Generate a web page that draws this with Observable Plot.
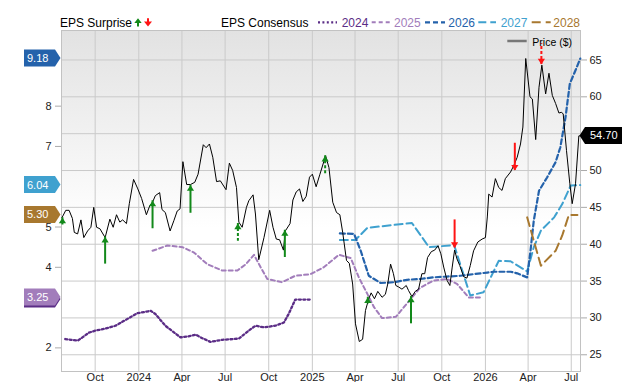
<!DOCTYPE html>
<html><head><meta charset="utf-8">
<script src="https://cdn.jsdelivr.net/npm/d3@7"></script>
<script src="https://cdn.jsdelivr.net/npm/@observablehq/plot@0.6"></script>
<style>
body{margin:0;background:#fff;font-family:"Liberation Sans",Arial,sans-serif;}
#wrap{position:relative;width:640px;height:382px;}
</style></head><body><div id="wrap"></div>
<script>
// ---------- DATA ----------
const xTickDates = ["2023-10-01","2024-01-01","2024-04-01","2024-07-01","2024-10-01","2025-01-01","2025-04-01","2025-07-01","2025-10-01","2026-01-01","2026-04-01","2026-07-01"];
const priceTicks = [25,30,35,40,45,50,55,60,65];
const epsTicks = [2,3,4,5,6,7,8,9];

const price = [
["2023-07-23",43.6],["2023-07-31",44.6],["2023-08-07",44.6],["2023-08-14",43.5],["2023-08-18",41.6],["2023-08-25",41.4],
["2023-09-01",43.3],["2023-09-07",40.9],["2023-09-15",41.8],["2023-09-22",42.3],["2023-09-28",45.0],["2023-10-04",42.3],
["2023-10-11",42.1],["2023-10-22",40.9],["2023-11-01",43.4],["2023-11-08",42.3],["2023-11-15",44.0],["2023-11-22",43.0],
["2023-11-28",43.3],["2023-12-06",42.8],["2023-12-12",45.5],["2023-12-21",48.8],["2023-12-30",47.5],["2024-01-07",46.2],
["2024-01-17",44.0],["2024-01-24",45.2],["2024-01-30",45.7],["2024-02-05",46.6],["2024-02-14",47.0],["2024-02-19",44.7],
["2024-02-26",44.3],["2024-03-07",41.8],["2024-03-15",43.2],["2024-03-22",44.5],["2024-03-28",44.8],["2024-04-03",51.2],
["2024-04-11",48.1],["2024-04-19",48.1],["2024-04-28",48.4],["2024-05-05",49.5],["2024-05-16",53.5],["2024-05-22",53.1],
["2024-05-29",53.6],["2024-06-05",51.8],["2024-06-13",48.5],["2024-06-21",48.6],["2024-07-03",47.4],["2024-07-10",51.0],
["2024-07-17",50.0],["2024-07-25",47.7],["2024-07-30",43.0],["2024-08-06",42.3],["2024-08-15",45.0],["2024-08-20",45.9],
["2024-08-29",46.7],["2024-09-03",44.1],["2024-09-10",37.9],["2024-09-21",40.9],["2024-10-03",44.6],["2024-10-10",42.3],
["2024-10-17",40.7],["2024-10-24",40.6],["2024-11-01",39.2],["2024-11-05",41.8],["2024-11-15",42.8],["2024-11-21",46.0],
["2024-11-28",47.1],["2024-12-05",47.5],["2024-12-12",45.8],["2024-12-19",46.5],["2024-12-26",49.1],["2025-01-01",49.5],
["2025-01-09",47.8],["2025-01-17",49.5],["2025-01-29",52.0],["2025-02-05",50.4],["2025-02-13",45.7],["2025-02-21",44.3],
["2025-02-28",44.0],["2025-03-06",41.6],["2025-03-14",37.8],["2025-03-20",37.4],["2025-03-27",34.6],["2025-04-02",29.2],
["2025-04-10",26.8],["2025-04-17",27.1],["2025-04-23",31.0],["2025-04-30",32.6],["2025-05-05",33.4],["2025-05-12",32.6],
["2025-05-19",33.6],["2025-05-28",32.8],["2025-06-04",33.2],["2025-06-09",34.6],["2025-06-15",37.3],["2025-06-21",36.0],
["2025-06-26",34.4],["2025-07-02",34.2],["2025-07-09",33.9],["2025-07-18",34.4],["2025-07-23",33.7],["2025-07-30",32.9],
["2025-08-06",33.6],["2025-08-13",33.9],["2025-08-20",36.0],["2025-08-26",36.0],["2025-09-01",38.2],["2025-09-09",39.0],
["2025-09-16",39.2],["2025-09-23",39.8],["2025-09-29",38.7],["2025-10-05",36.9],["2025-10-12",35.1],["2025-10-18",34.4],
["2025-10-23",36.9],["2025-10-28",39.2],["2025-11-02",38.0],["2025-11-08",37.1],["2025-11-16",35.6],["2025-11-23",35.4],
["2025-11-30",37.1],["2025-12-07",39.1],["2025-12-16",40.3],["2025-12-25",40.7],["2026-01-01",40.9],["2026-01-05",43.7],
["2026-01-08",46.8],["2026-01-15",46.4],["2026-01-22",48.9],["2026-01-29",47.7],["2026-02-05",47.3],["2026-02-12",48.9],
["2026-02-23",49.8],["2026-03-02",50.7],["2026-03-09",51.8],["2026-03-16",53.6],["2026-03-21",55.9],["2026-03-27",65.2],
["2026-04-05",60.0],["2026-04-10",59.7],["2026-04-17",54.2],["2026-04-24",61.3],["2026-04-30",64.3],["2026-05-08",60.4],
["2026-05-15",63.2],["2026-05-22",60.2],["2026-05-29",59.1],["2026-06-05",57.8],["2026-06-10",57.9],["2026-06-14",57.7],
["2026-06-21",52.7],["2026-06-28",48.2],["2026-07-03",45.5],["2026-07-10",48.2],["2026-07-17",54.7],["2026-07-20",54.7]
];

const eps2024 = [
["2023-07-30",2.22],["2023-08-11",2.20],["2023-08-25",2.18],["2023-09-04",2.26],["2023-09-18",2.38],["2023-10-02",2.43],
["2023-10-23",2.48],["2023-11-13",2.55],["2023-12-08",2.72],["2023-12-29",2.86],["2024-01-26",2.92],["2024-02-05",2.84],
["2024-02-26",2.55],["2024-03-29",2.26],["2024-04-12",2.28],["2024-04-30",2.33],["2024-05-14",2.24],["2024-05-31",2.15],
["2024-06-25",2.20],["2024-07-30",2.23],["2024-08-20",2.43],["2024-09-03",2.55],["2024-09-21",2.51],["2024-10-15",2.55],
["2024-11-02",2.63],["2024-11-12",2.84],["2024-11-26",3.20],["2024-12-28",3.20]
];
const eps2025 = [
["2024-01-30",4.41],["2024-03-01",4.54],["2024-04-02",4.50],["2024-04-26",4.37],["2024-05-24",4.08],["2024-06-25",3.92],
["2024-07-27",3.92],["2024-08-14",4.08],["2024-08-31",4.31],["2024-09-14",4.00],["2024-09-28",3.71],["2024-10-29",3.63],
["2024-11-26",3.79],["2024-12-28",3.83],["2025-01-25",4.00],["2025-02-26",4.31],["2025-03-23",4.23],["2025-04-09",3.75],
["2025-04-27",3.34],["2025-05-11",3.01],["2025-05-28",2.74],["2025-06-26",2.77],["2025-07-13",3.01],["2025-07-30",3.25],
["2025-08-16",3.49],["2025-09-13",3.67],["2025-10-12",3.71],["2025-11-02",3.59],["2025-11-27",3.25],["2025-12-22",3.25]
];
const eps2026 = [
["2025-02-28",4.84],["2025-03-30",4.83],["2025-04-13",4.41],["2025-04-30",3.79],["2025-05-25",3.61],["2025-06-22",3.63],
["2025-07-20",3.69],["2025-08-16",3.71],["2025-09-13",3.75],["2025-10-12",3.77],["2025-11-09",3.79],["2025-12-07",3.83],
["2026-01-05",3.87],["2026-01-18",3.89],["2026-02-23",3.89],["2026-03-09",3.85],["2026-03-30",3.75],["2026-04-06",4.41],
["2026-04-13",5.16],["2026-04-24",5.90],["2026-05-11",6.23],["2026-05-29",6.61],["2026-06-08",6.98],["2026-06-19",7.73],
["2026-06-28",8.56],["2026-07-10",8.89],["2026-07-20",9.18]
];
const eps2027 = [
["2025-02-28",4.68],["2025-04-02",4.68],["2025-04-27",4.98],["2025-07-30",5.10],["2025-09-04",4.50],["2025-10-27",4.55],
["2025-11-30",3.30],["2025-12-28",3.38],["2026-01-29",4.16],["2026-02-23",4.15],["2026-03-30",3.90],["2026-04-13",4.50],
["2026-04-28",4.91],["2026-05-26",5.24],["2026-06-12",5.57],["2026-06-30",6.03],["2026-07-20",6.04]
];
const eps2028 = [
["2026-03-30",5.24],["2026-04-28",4.04],["2026-05-29",4.41],["2026-06-12",4.79],["2026-06-26",5.30],["2026-07-14",5.30]
];

// EPS surprises: date, price at arrow tip, price at arrow tail, beat?, preliminary?
const surprises = [
{date:"2023-07-24", tip:43.6, tail:42.6, beat:true,  partial:true},
{date:"2023-10-22", tip:41.0, tail:37.3, beat:true,  partial:false},
{date:"2024-01-30", tip:45.9, tail:42.1, beat:true,  partial:false},
{date:"2024-04-19", tip:48.0, tail:44.2, beat:true,  partial:false},
{date:"2024-07-28", tip:42.8, tail:40.4, beat:true,  partial:true},
{date:"2024-11-04", tip:41.9, tail:38.2, beat:true,  partial:false},
{date:"2025-01-28", tip:52.0, tail:49.5, beat:true,  partial:true},
{date:"2025-04-28", tip:32.8, tail:31.9, beat:true,  partial:false},
{date:"2025-07-28", tip:32.9, tail:29.2, beat:true,  partial:false},
{date:"2025-10-28", tip:39.5, tail:43.3, beat:false, partial:false},
{date:"2026-03-04", tip:50.0, tail:53.7, beat:false, partial:false},
{date:"2026-04-29", tip:64.4, tail:67.2, beat:false, partial:true}
];

const seriesNames = ["2024","2025","2026","2027","2028"];
const seriesColors = {"2024":"#5b2d86","2025":"#a27dbb","2026":"#2462ab","2027":"#3fa1cf","2028":"#a8782f"};
const seriesDash = {"2024":"2,2.4","2025":"4,3","2026":"5,3","2027":"8,4","2028":"9,5"};
const seriesWidth = {"2024":2.3,"2025":2,"2026":2.2,"2027":2,"2028":2};

// ---------- HELPERS ----------
const parse = d3.utcParse("%Y-%m-%d");
const EPS_BASE = 15, EPS_STEP = 5.467;            // dual-axis mapping: price = base + step * EPS
const epsToPrice = e => EPS_BASE + EPS_STEP * e;
const priceToEps = p => (p - EPS_BASE) / EPS_STEP;
const rows = arr => arr.map(([d, v]) => ({date: parse(d), value: v}));
const epsData = {"2024":eps2024,"2025":eps2025,"2026":eps2026,"2027":eps2027,"2028":eps2028};
const lastOf = arr => arr[arr.length - 1][1];
const GREEN = "#12891a", RED = "#ff1414";
const arrowRows = surprises.map(s => ({...s, date: parse(s.date)}));
const xTicks = xTickDates.map(parse);
const headUp = {draw(ctx){ ctx.moveTo(0,0); ctx.lineTo(3.6,5.6); ctx.lineTo(-3.6,5.6); ctx.closePath(); }};
const headDown = {draw(ctx){ ctx.moveTo(0,0); ctx.lineTo(3.6,-5.6); ctx.lineTo(-3.6,-5.6); ctx.closePath(); }};

// tick labels that sit under a value tag are hidden (as in the reference)
const Y_DOMAIN = [22.73, 69.0];
const PX_PER_UNIT = (371 - 30) / (Y_DOMAIN[1] - Y_DOMAIN[0]);
const leftTagPrices = seriesNames.map(k => epsToPrice(lastOf(epsData[k])));
const rightTagPrice = lastOf(price);
const covered = (p, tagPrices) => tagPrices.some(t => Math.abs(t - p) * PX_PER_UNIT < 9.5);

const FONT = "'Liberation Sans', Arial, sans-serif";
const GRID = "#cacaca";

const lineMarks = ["2024","2025","2027","2026","2028"].map(k =>
  Plot.line(rows(epsData[k]), {x:"date", y: d => epsToPrice(d.value), stroke: seriesColors[k],
    strokeWidth: seriesWidth[k], strokeDasharray: seriesDash[k]}));

const arrowMarks = [];
for (const beat of [true, false]) for (const partial of [false, true]) {
  const data = arrowRows.filter(d => d.beat === beat && d.partial === partial);
  arrowMarks.push(Plot.ruleX(data, {x:"date", y1:"tip", y2:"tail", stroke: beat ? GREEN : RED,
    strokeWidth: 2, strokeDasharray: partial ? "3,2" : null}));
}
arrowMarks.push(Plot.dot(arrowRows.filter(d => d.beat), {x:"date", y:"tip", symbol: headUp, r: 3, fill: GREEN, stroke: null}));
arrowMarks.push(Plot.dot(arrowRows.filter(d => !d.beat), {x:"date", y:"tip", symbol: headDown, r: 3, fill: RED, stroke: null}));

const leftVisible = epsTicks.map(epsToPrice).filter(p => !covered(p, leftTagPrices));
const rightVisible = priceTicks.filter(p => !covered(p, [rightTagPrice]));

const plot = Plot.plot({
  width: 640, height: 382,
  marginTop: 30, marginBottom: 11, marginLeft: 61, marginRight: 60,
  style: {fontFamily: FONT, fontSize: "11px", background: "transparent", overflow: "visible", color: "#222"},
  x: {type: "utc", domain: [parse("2023-07-22"), new Date(Date.UTC(2026, 6, 20, 12))]},
  y: {domain: Y_DOMAIN, label: null},
  marks: [
    Plot.frame({fill: "url(#bgGrad)", stroke: null}),
    Plot.gridX({ticks: xTicks, stroke: GRID, strokeOpacity: 1}),
    Plot.gridY({ticks: priceTicks, stroke: GRID, strokeOpacity: 1}),
    Plot.frame({stroke: "#c2c2c2"}),
    Plot.axisX({ticks: xTicks, tickSize: 0, tickPadding: 2, label: null, fontSize: 11, fill: "#222",
      tickFormat: d => d.getUTCMonth() === 0 ? String(d.getUTCFullYear()) : d3.utcFormat("%b")(d)}),
    Plot.axisY({anchor: "right", ticks: rightVisible, tickSize: 6, tickPadding: 3, label: null, fontSize: 11,
      stroke: "#aaa", fill: "#222", tickFormat: d3.format("d")}),
    Plot.axisY({anchor: "left", ticks: leftVisible, tickSize: 6, tickPadding: 4, label: null, fontSize: 11,
      stroke: "#aaa", fill: "#222", tickFormat: p => String(Math.round(priceToEps(p)))}),
    ...lineMarks,
    Plot.line(rows(price), {x: "date", y: "value", stroke: "#000", strokeWidth: 1}),
    ...arrowMarks
  ]
});

const svg = d3.select(plot);
const defs = svg.insert("defs", ":first-child");
const grad = defs.append("linearGradient").attr("id", "bgGrad").attr("x1", 0).attr("y1", 0).attr("x2", 0).attr("y2", 1);
grad.append("stop").attr("offset", "0%").attr("stop-color", "#e2e2e2");
grad.append("stop").attr("offset", "58%").attr("stop-color", "#ffffff");
grad.append("stop").attr("offset", "100%").attr("stop-color", "#ffffff");

const ys = plot.scale("y");
const yPix = v => ys.apply(v);

// Left value tags (last consensus of each fiscal year)
const tagOrder = ["2024","2025","2028","2027","2026"];
const tags = svg.append("g").attr("font-family", FONT).attr("font-size", 11).attr("text-anchor", "start");
for (const k of tagOrder) {
  const v = lastOf(epsData[k]);
  const y = yPix(epsToPrice(v));
  tags.append("path").attr("d", `M24,${y-8.5}H55L60.5,${y}L55,${y+8.5}H24Z`).attr("fill", seriesColors[k]);
  if (k !== "2024") tags.append("text").attr("x", 27).attr("y", y + 4).attr("fill", "#fff").text(d3.format(".2f")(v));
}
// Right price tag
{
  const v = rightTagPrice;
  const y = yPix(v);
  tags.append("path").attr("d", `M579.5,${y}L585,${y-8.5}H622V${y+8.5}H585Z`).attr("fill", "#000");
  tags.append("text").attr("x", 590).attr("y", y + 4).attr("fill", "#fff").text(d3.format(".2f")(v));
}

// Legend (top)
const lg = svg.append("g").attr("font-family", FONT).attr("font-size", 12).attr("text-anchor", "start");
lg.append("text").attr("x", 60).attr("y", 27.3).attr("fill", "#000").text("EPS Surprise");
lg.append("path").attr("d", "M134.3,22.9L138,18.3L141.7,22.9H139V26.5H137V22.9Z").attr("fill", GREEN);
lg.append("path").attr("d", "M147,18.3H149V21.4H152L148,26.5L144,21.4H147Z").attr("fill", RED);
lg.append("text").attr("x", 221).attr("y", 27.3).attr("fill", "#000").text("EPS Consensus");
const legX = {"2024":[318,337,341.7],"2025":[371.7,391.7,394],"2026":[425,445,448.3],"2027":[478.3,496,500.7],"2028":[531.7,550.7,553.3]};
for (const k of seriesNames) {
  const [a, b, t] = legX[k];
  lg.append("line").attr("x1", a).attr("x2", b).attr("y1", 22.3).attr("y2", 22.3)
    .attr("stroke", seriesColors[k]).attr("stroke-width", seriesWidth[k]).attr("stroke-dasharray", seriesDash[k]);
  lg.append("text").attr("x", t).attr("y", 27.3).attr("fill", seriesColors[k]).text(k);
}
// Price legend inside plot
lg.append("line").attr("x1", 507.3).attr("x2", 526.7).attr("y1", 41).attr("y2", 41).attr("stroke", "#777").attr("stroke-width", 2.5);
lg.append("text").attr("x", 532.3).attr("y", 45.5).attr("font-size", 10.5).attr("fill", "#000").text("Price ($)");

document.getElementById("wrap").appendChild(plot);
</script></body></html>
